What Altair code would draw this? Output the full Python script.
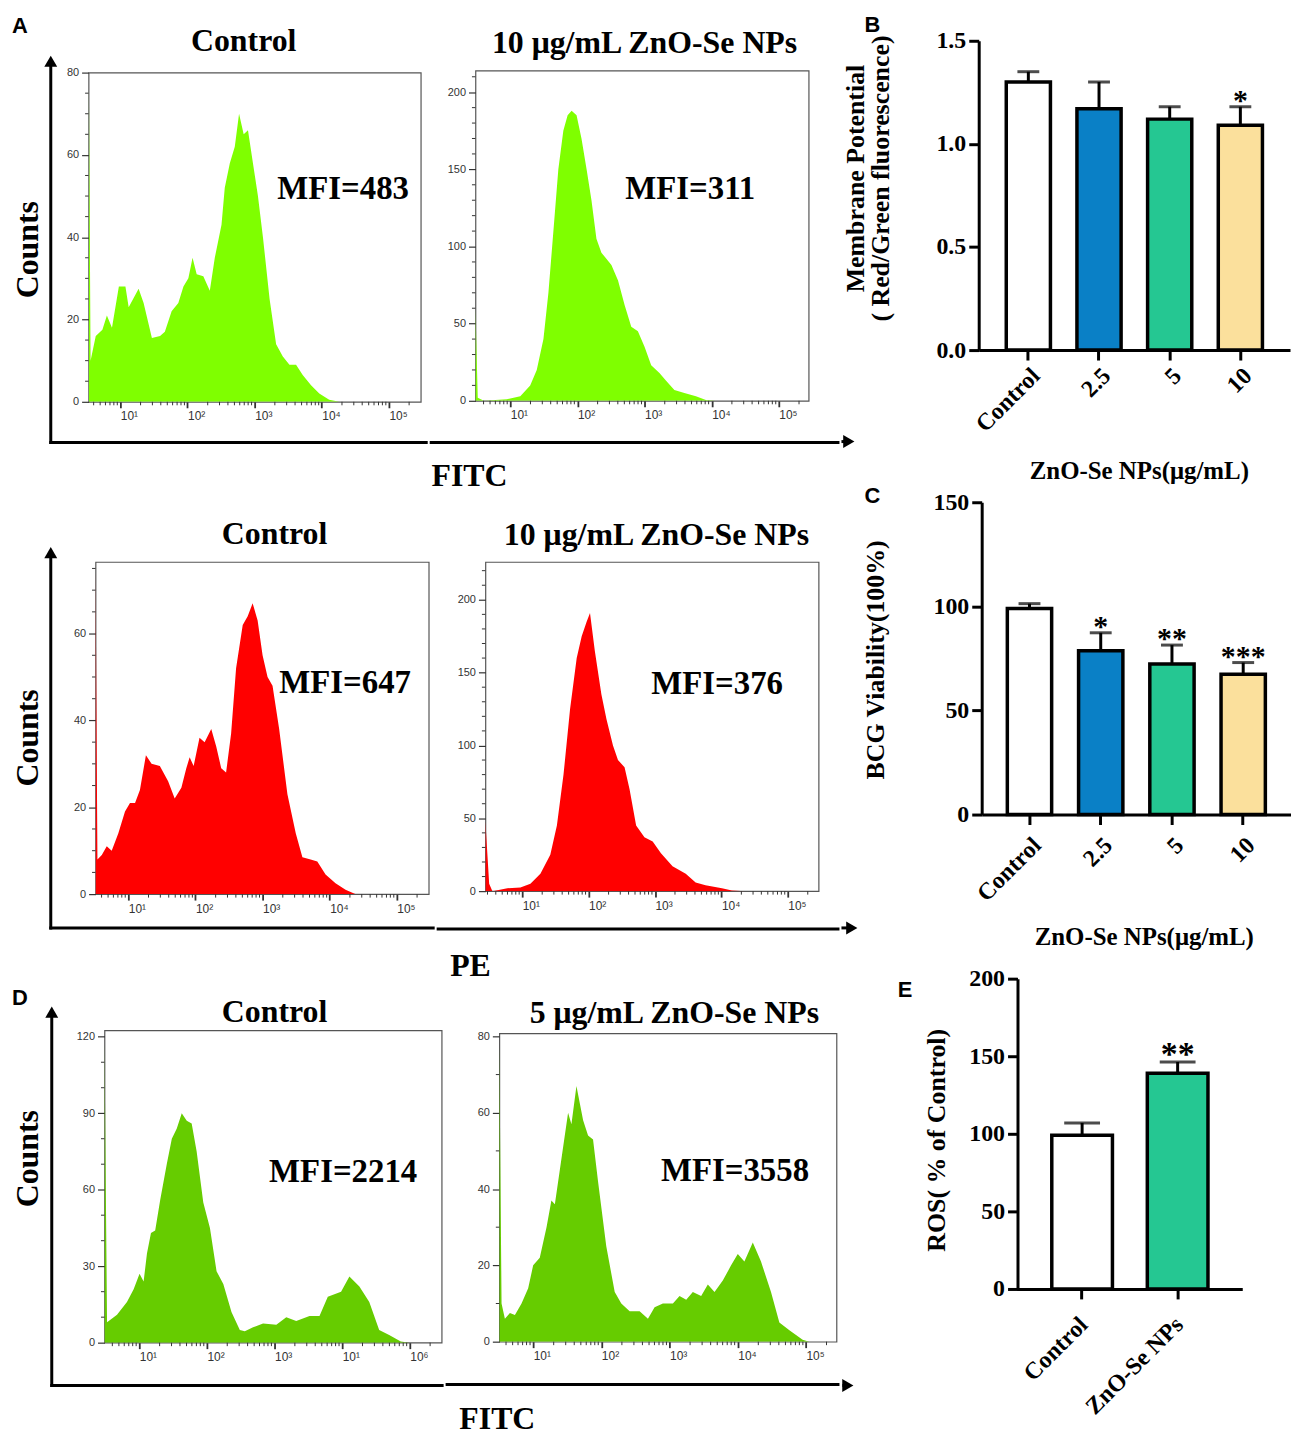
import altair as alt
import pandas as pd

# ---------------- data ----------------
a1_fitc = [3.4, 3.6, 4.3, 5.4, 6.3, 7.5, 9.5, 11.9, 13.3, 18.7, 22.2, 29.5, 39, 46, 58, 73, 87, 103, 119, 137,
           172, 215, 255, 321, 359, 427, 506, 586, 687, 796, 944, 1120, 1330, 1670, 2090, 2630, 3300, 4140, 5200, 6920,
           9180, 12900, 18200, 298000]
a1_count = [77, 10, 16, 17.5, 21, 18, 28, 28, 23, 27.5, 24, 15.5, 16, 17, 22, 24, 28, 30, 35, 31,
            30.5, 27, 35, 43, 52, 58, 62, 70, 65, 66, 58, 50, 40, 25, 14, 11, 9, 9, 6.5, 4,
            2, 0.5, 0, 0]
a2_fitc = [3.03, 3.28, 4.03, 8.9, 14.1, 19.8, 24.8, 31.2, 37, 43.9, 52, 61.7, 71.5, 82, 97.2, 115, 137, 162, 192, 228,
           270, 321, 403, 506, 634, 796, 1000, 1256, 1667, 2094, 2782, 3918, 5824, 8200, 11500, 278000]
a2_count = [60, 2, 0, 1, 3, 10, 20, 40, 70, 110, 150, 175, 185, 188, 185, 170, 150, 130, 105, 96,
            92, 88, 78, 62, 48, 45, 35, 23, 18, 13, 7, 5, 3, 0.5, 0, 0]
p1_pe = [3.25, 3.47, 4.03, 4.78, 5.66, 7.11, 8.93, 10.6, 12.6, 14.9, 18.3, 22.2, 29.5, 39.2, 49.1, 61.7, 73.1, 82, 94, 115,
         137, 172, 204, 242, 286, 340, 403, 506, 600, 711, 844, 1000, 1186, 1407, 1766, 2344, 3119, 3918, 5200, 6531,
         8670, 12200, 17200, 24200, 298000]
p1_count = [75, 8, 9, 11, 10, 14, 19, 21, 21, 24, 32, 30, 29.5, 26, 22, 24.5, 29, 31.5, 29.5, 36,
            35, 38, 34, 29, 28, 37, 52, 62, 64, 67, 63, 55, 50, 48, 38, 23, 14, 8.5, 8, 7.5,
            4.5, 2.5, 1, 0, 0]
p2_pe = [2.79, 3.18, 3.56, 5.97, 9.4, 13.3, 18.8, 26.5, 33.3, 41.9, 52.6, 66.2, 78.7, 93.4, 105, 124, 156, 186, 233, 277,
         348, 414, 520, 693, 923, 1230, 1837, 2904, 4093, 5768, 10200, 14400, 22800, 291000]
p2_count = [48, 5, 0, 2, 2.5, 5, 12, 25, 45, 80, 125, 160, 175, 185, 191, 165, 135, 118, 100, 90,
            85, 70, 45, 37, 34, 26, 17, 12, 6, 4, 2, 0.5, 0, 0]
d1_fitc = [3.06, 3.34, 4.69, 6.58, 8.26, 10.1, 11.6, 13, 14.9, 17.2, 20.4, 25.5, 30.3, 35.9, 42.5, 50.4, 59.6, 70.6, 88.5, 111,
           139, 175, 231, 307, 364, 482, 677, 1064, 1493, 2096, 3294, 4625, 6138, 9640, 12800, 18000, 25200, 35300, 49600, 73700,
           97700, 296000]
d1_count = [118, 8, 11, 16, 21, 27, 24, 35, 43, 44, 56, 70, 80, 84, 90, 87, 86, 75, 55, 45,
            28, 23, 12, 5, 4.5, 6, 7.5, 7, 10, 8.5, 10.5, 10.5, 18, 20, 26, 22, 16, 5, 3, 0.5,
            0, 0]
d2_fitc = [3.19, 3.44, 3.85, 4.56, 5.4, 6.75, 8.45, 10, 12.5, 15.7, 18.5, 20.8, 26, 32.5, 36.4, 43.1, 54, 63.8, 75.5, 89.4,
           118, 157, 196, 260, 364, 482, 603, 798, 1119, 1400, 1754, 2193, 2904, 3639, 4560, 6031, 7980, 10000, 12500, 16600,
           21900, 30700, 40700, 57100, 89300, 112000, 280000]
d2_count = [78, 10, 6, 7.5, 7, 10, 14, 20, 22, 30, 37, 36, 48, 60, 57, 67, 58, 54, 53, 42,
            25, 13, 10, 8, 8, 6, 9, 10, 10, 12, 11, 13, 12, 15, 13, 16, 20, 23, 21, 26,
            21, 13, 5, 3, 0.5, 0, 0]

sup_std = ["¹", "²", "³", "⁴", "⁵"]
sup_d1 = ["¹", "²", "³", "¹", "⁶"]

b_groups = ["Control", "2.5", "5", "10"]
b_mean = [1.30, 1.17, 1.12, 1.09]
b_upper = [1.35, 1.30, 1.18, 1.18]
b_sig = ["", "", "", "*"]
c_groups = ["Control", "2.5", "5", "10"]
c_mean = [99, 78.7, 72.3, 67.4]
c_upper = [101.3, 87.3, 81.4, 73.0]
c_sig = ["", "*", "**", "***"]
e_groups = ["Control", "ZnO-Se NPs"]
e_mean = [99, 139]
e_upper = [107, 146.3]
e_sig = ["", "**"]

bar_colors4 = ["#FFFFFF", "#0A80C6", "#25C792", "#FBE09C"]
bar_colors2 = ["#FFFFFF", "#25C792"]

SERIF = "Liberation Serif"
SANS = "Liberation Sans"
ONE = pd.DataFrame({"k": [0]})
TITLE = 32
MFI = 33


def label(o, s, x, y, size, font=SERIF, angle=0):
    return alt.Chart(ONE).mark_text(
        text=s, font=font, fontSize=size, fontWeight="bold", angle=angle,
        align="center", baseline="middle", color="black"
    ).encode(x=alt.value(x - o[0]), y=alt.value(y - o[1]))


def hbar(o, x1, x2, y):
    return alt.Chart(ONE).mark_rect(color="black", strokeWidth=0).encode(
        x=alt.value(x1 - o[0]), x2=alt.value(x2 - o[0]),
        y=alt.value(y - 1.5 - o[1]), y2=alt.value(y + 1.5 - o[1]))


def vbar(o, x, y1, y2):
    return alt.Chart(ONE).mark_rect(color="black", strokeWidth=0).encode(
        x=alt.value(x - 1.5 - o[0]), x2=alt.value(x + 1.5 - o[0]),
        y=alt.value(y1 - o[1]), y2=alt.value(y2 - o[1]))


def head(o, shape, x, y):
    return alt.Chart(ONE).mark_point(shape=shape, filled=True, color="black", size=169,
                                     opacity=1, strokeWidth=0).encode(
        x=alt.value(x - o[0]), y=alt.value(y - o[1]))


def marker(x, y):
    return alt.Chart(ONE).mark_point(filled=True, size=0.01, opacity=0, strokeWidth=0).encode(
        x=alt.value(x), y=alt.value(y))


def box(L, T, R, B):
    # invisible corner points fixing each panel's extent in the concat layout
    return [marker(-L + 0.1, -T + 0.1), marker(R - 0.1, B - 0.1)]


def hist(fitc, count, color, xdom, ydom, w, h, ymajor, ystep, sups, deco):
    df = pd.DataFrame({"fitc": fitc, "count": count})
    xscale = alt.Scale(type="log", domain=xdom, nice=False)
    yscale = alt.Scale(domain=ydom, nice=False, zero=True)
    sup_js = "[" + ",".join("'10%s'" % s for s in sups) + "]"
    xaxis = alt.Axis(values=[10, 100, 1000, 10000, 100000],
                     labelExpr=sup_js + "[round(log(datum.value)/LN10)-1]",
                     title=None, grid=False, domain=False, tickSize=6, tickWidth=1.8,
                     tickColor="#333", labelFont=SANS, labelFontSize=12, labelColor="#333",
                     labelAlign="left", labelPadding=3, labelOverlap=False, labelFlush=False)
    yaxis = alt.Axis(values=ymajor, title=None, grid=False, domain=False, tickSize=7,
                     tickWidth=1.2, tickColor="#333", labelFont=SANS, labelFontSize=11,
                     labelColor="#333", labelPadding=3, labelOverlap=False, labelFlush=False)
    area = alt.Chart(df).mark_area(color=color, clip=True, interpolate="linear").encode(
        x=alt.X("fitc:Q", scale=xscale, axis=xaxis),
        y=alt.Y("count:Q", scale=yscale, axis=yaxis))
    xminor = [m * 10 ** k for k in range(0, 6) for m in range(2, 10)
              if xdom[0] < m * 10 ** k < xdom[1]]
    yminor = [v for v in range(0, int(ydom[1]) + 1, ystep) if v not in ymajor]
    xm = alt.Chart(pd.DataFrame({"fitc": xminor})).mark_rule(color="#333", strokeWidth=1).encode(
        x=alt.X("fitc:Q", scale=xscale, axis=xaxis), y=alt.value(h), y2=alt.value(h + 3.5))
    ym = alt.Chart(pd.DataFrame({"count": yminor})).mark_rule(color="#333", strokeWidth=1).encode(
        y=alt.Y("count:Q", scale=yscale, axis=yaxis), x=alt.value(0), x2=alt.value(-3.5))
    return alt.layer(area, xm, ym, *deco).properties(
        width=w, height=h, view=alt.ViewBackground(stroke="#555", strokeWidth=1.2))


def bars(groups, mean, upper, sig, colors, ydom, yvals, yfmt, ytitle, ytx, yty,
         xtitle, xtx, xty, w, h, pin, pout, cap, star_size, lpad, loff, deco):
    df = pd.DataFrame({"g": groups, "m": mean, "u": upper, "s": sig, "col": colors})
    xkw = dict(labelAngle=-45, labelAlign="right", labelBaseline="middle", labelPadding=lpad,
               labelOffset=loff,
               labelFont=SERIF, labelFontWeight="bold", labelFontSize=24, labelColor="black",
               tickSize=10, tickWidth=3, tickColor="black", domainWidth=3, domainColor="black",
               grid=False)
    if xtitle is None:
        xax = alt.Axis(title=None, **xkw)
    else:
        xax = alt.Axis(title=xtitle, titleFont=SERIF, titleFontWeight="bold", titleFontSize=25,
                       titleColor="black", titleX=xtx, titleY=xty, titleBaseline="middle",
                       titleAlign="center", **xkw)
    yax = alt.Axis(values=yvals, format=yfmt, labelFont=SERIF, labelFontWeight="bold",
                   labelFontSize=24, labelColor="black", labelPadding=3, tickSize=10, tickWidth=3,
                   tickColor="black", domainWidth=3, domainColor="black", grid=False,
                   title=ytitle, titleFont=SERIF, titleFontWeight="bold", titleFontSize=26,
                   titleColor="black", titleX=ytx, titleY=yty, titleAngle=270,
                   titleBaseline="middle", titleAlign="center", titleLineHeight=25)
    xs = alt.Scale(paddingInner=pin, paddingOuter=pout)
    ys = alt.Scale(domain=ydom, nice=False)
    xenc = alt.X("g:N", sort=groups, scale=xs, axis=xax)
    err = alt.Chart(df).mark_rule(color="black", strokeWidth=3).encode(
        x=xenc, y=alt.Y("m:Q", scale=ys, axis=yax), y2="u:Q")
    bar = alt.Chart(df).mark_bar(stroke="black", strokeWidth=3.5).encode(
        x=xenc, y=alt.Y("m:Q", scale=ys, axis=yax), fill=alt.Fill("col:N", scale=None))
    capm = alt.Chart(df).mark_tick(color="black", thickness=3, size=cap).encode(
        x=xenc, y=alt.Y("u:Q", scale=ys, axis=yax))
    stars = alt.Chart(df).mark_text(font=SERIF, fontWeight="bold", fontSize=star_size,
                                    baseline="alphabetic", dy=3, color="black").encode(
        x=xenc, y=alt.Y("u:Q", scale=ys, axis=yax), text="s:N")
    return alt.layer(err, bar, capm, stars, *deco).properties(width=w, height=h)


def sp():
    return alt.Chart(ONE).mark_point(filled=True, size=0.01, opacity=0, strokeWidth=0).encode(
        x=alt.value(0.5), y=alt.value(0.5)).properties(width=1, height=1)


oAL, oAR, oB = (88, 72), (475, 70), (980, 41)
oPL, oPR, oC = (95, 563), (485, 562), (983, 503)
oDL, oDR, oE = (104, 1031), (499, 1035), (1018, 979)

A_L = hist(a1_fitc, a1_count, "#7FFF00", [3.36, 298000], [0, 80], 334, 331,
           [0, 20, 40, 60, 80], 5, sup_std,
           [label(oAL, "Control", 244, 40, TITLE), label(oAL, "MFI=483", 344, 189, MFI),
            label(oAL, "Counts", 27, 250, TITLE, angle=270), label(oAL, "A", 19, 25, 22, font=SANS),
            vbar(oAL, 50, 445.5, 61), head(oAL, "triangle-up", 50, 60.6),
            hbar(oAL, 48.5, 429, 444)] + box(79, 59, 341, 426))
A_R = hist(a2_fitc, a2_count, "#7FFF00", [3.03, 278000], [0, 214], 335, 332,
           [0, 50, 100, 150, 200], 10, sup_std,
           [label(oAR, "10 μg/mL ZnO-Se NPs", 645, 42, TITLE), label(oAR, "MFI=311", 691, 189, MFI),
            label(oAR, "FITC", 469, 478, TITLE), hbar(oAR, 429, 841, 444)]
           + box(46, 57, 366, 426))

P_L = hist(p1_pe, p1_count, "#FF0000", [3.25, 298000], [0, 76.5], 335, 334,
           [0, 20, 40, 60], 5, sup_std,
           [label(oPL, "Control", 275, 535, TITLE), label(oPL, "MFI=647", 346, 685, MFI),
            label(oPL, "Counts", 27, 740, TITLE, angle=270),
            vbar(oPL, 50, 932.5, 554), head(oPL, "triangle-up", 50, 553.6),
            hbar(oPL, 48.5, 436, 931)] + box(86, 64, 341, 423))
P_R = hist(p2_pe, p2_count, "#FF0000", [2.79, 291000], [0, 226], 335, 331,
           [0, 50, 100, 150, 200], 10, sup_std,
           [label(oPR, "10 μg/mL ZnO-Se NPs", 657, 535, TITLE), label(oPR, "MFI=376", 718, 685, MFI),
            label(oPR, "PE", 470, 968, TITLE), hbar(oPR, 436, 841, 931)]
           + box(49, 66, 356, 423))

D_L = hist(d1_fitc, d1_count, "#66CC00", [3.06, 296000], [0, 122.5], 339, 314,
           [0, 30, 60, 90, 120], 10, sup_d1,
           [label(oDL, "Control", 275, 1013, TITLE), label(oDL, "MFI=2214", 344, 1173, MFI),
            label(oDL, "Counts", 27, 1160, TITLE, angle=270), label(oDL, "D", 19, 998, 22, font=SANS),
            vbar(oDL, 51, 1389.5, 1013), head(oDL, "triangle-up", 51, 1012.6),
            hbar(oDL, 49.5, 445, 1388)] + box(95, 46, 341, 420))
D_R = hist(d2_fitc, d2_count, "#66CC00", [3.19, 280000], [0, 80.8], 339, 310,
           [0, 20, 40, 60, 80], 10, sup_std,
           [label(oDR, "5 μg/mL ZnO-Se NPs", 675, 1015, TITLE), label(oDR, "MFI=3558", 736, 1173, MFI),
            label(oDR, "FITC", 497, 1423, TITLE), hbar(oDR, 445, 841, 1388)]
           + box(54, 49, 342, 420))

B = bars(b_groups, b_mean, b_upper, b_sig, bar_colors4, [0, 1.5], [0, 0.5, 1.0, 1.5], ".1f",
         ["Membrane Potential", "( Red/Green fluorescence)"], -124, 138,
         "ZnO-Se NPs(μg/mL)", 161, 121, 313, 311, 0.375, 0.39, 22, 30, 12, 8,
         [label(oB, "B", 873, 25, 22, font=SANS), hbar(oB, 842, 850, 444),
          head(oB, "triangle-right", 849.4, 444)] + box(138, 28, 313, 446))
C = bars(c_groups, c_mean, c_upper, c_sig, bar_colors4, [0, 150], [0, 50, 100, 150], "d",
         "BCG Viability(100%)", -107, 158,
         "ZnO-Se NPs(μg/mL)", 163, 123, 311, 314, 0.378, 0.36, 22, 30, 17, 8,
         [label(oC, "C", 873, 497, 22, font=SANS), hbar(oC, 842, 853, 931),
          head(oC, "triangle-right", 852.4, 931)] + box(141, 18, 311, 451))
E = bars(e_groups, e_mean, e_upper, e_sig, bar_colors2, [0, 200], [0, 50, 100, 150, 200], "d",
         "ROS( % of Control)", -81, 162,
         None, 0, 0, 226, 312, 0.365, 0.359, 36, 34, 22, 2,
         [label(oE, "E", 905, 990, 22, font=SANS), hbar(oE, 842, 848, 1388),
          head(oE, "triangle-right", 847.4, 1388)] + box(176, 28, 226, 420))

left_block = alt.concat(sp(), sp(), sp(),
                        sp(), A_L, A_R,
                        sp(), P_L, P_R,
                        sp(), D_L, D_R,
                        columns=3, spacing=0, bounds="full", align="none")
right_block = alt.concat(sp(), sp(),
                         sp(), B,
                         sp(), C,
                         sp(), E,
                         columns=2, spacing=0, bounds="full", align="none")

chart = alt.concat(left_block, right_block, columns=2, spacing=0, bounds="full", align="none",
                   padding=0).configure_view(stroke=None)

chart.save("out.html", embed_options={"renderer": "svg", "actions": False})
